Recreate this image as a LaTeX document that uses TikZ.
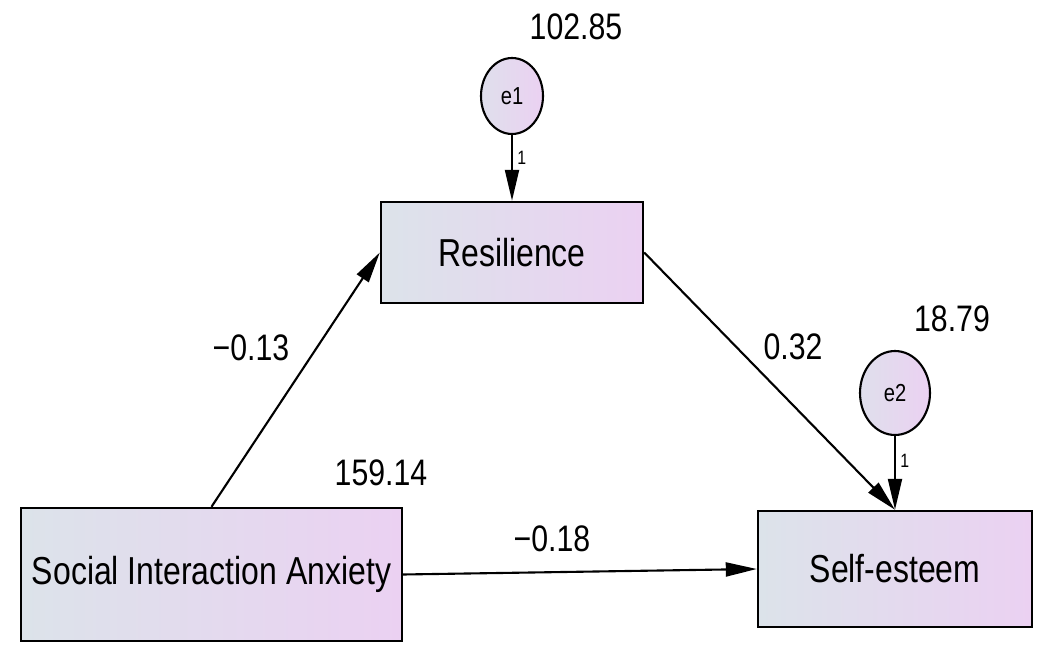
\documentclass[tikz,border=0pt]{standalone}
\usepackage{fontspec}
\setmainfont{Liberation Sans}[FakeStretch=0.82]
\usetikzlibrary{arrows.meta,shapes.geometric}
\definecolor{boxleft}{HTML}{DCE3EA}
\definecolor{boxright}{HTML}{EBD1F2}

\begin{document}
\begin{tikzpicture}[x=0.02cm, y=-0.02cm,
        varbox/.style={draw, line width=1.4pt, left color=boxleft, right color=boxright,
            inner sep=0pt, font=\fontsize{22.2}{26}\selectfont},
        errcirc/.style={ellipse, draw, line width=1.2pt, left color=boxleft!80!boxright, right color=boxright,
            inner sep=0pt, font=\fontsize{14}{16}\selectfont},
        coef/.style={font=\fontsize{21}{24}\selectfont, inner sep=0pt},
        fixone/.style={font=\fontsize{11}{12}\selectfont, inner sep=2.5pt},
        arr/.style={line width=1.2pt, -{Triangle[length=0.62cm, width=0.28cm]}}]

            \useasboundingbox (0,0) rectangle (1049,648);

            \node[varbox, minimum width=5.24cm, minimum height=2.02cm] (res) at (512,252.5) {Resilience};
            \node[varbox, minimum width=7.62cm, minimum height=2.66cm] (sia) at (211.5,574.5) {Social Interaction Anxiety};
            \node[varbox, minimum width=5.48cm, minimum height=2.32cm] (se) at (895,569) {Self-esteem};

            \node[errcirc, minimum width=1.24cm, minimum height=1.52cm] (e1) at (512,96) {e1};
            \node[errcirc, minimum width=1.40cm, minimum height=1.68cm] (e2) at (895,393) {e2};

            \node[coef] (vare1) at (576,27) {102.85};
            \node[coef] (vare2) at (952,319) {18.79};
            \node[coef] (varsia) at (381,473) {159.14};
            \node[coef] (ares) at (251,348) {−0.13};
            \node[coef] (bse) at (793,347) {0.32};
            \node[coef] (cse) at (552,539) {−0.18};

            \draw[arr] (e1.south) -- node[fixone, right, pos=0.34] (one1) {1} (res.north);
            \draw[arr] (e2.south) -- node[fixone, right, pos=0.34] (one2) {1} (se.north);
            \draw[arr] (sia.north) -- (res.west);
            \draw[arr] (res.east) -- (se.north);
            \draw[arr] (sia.east) -- (se.west);
        \end{tikzpicture}
\end{document}
